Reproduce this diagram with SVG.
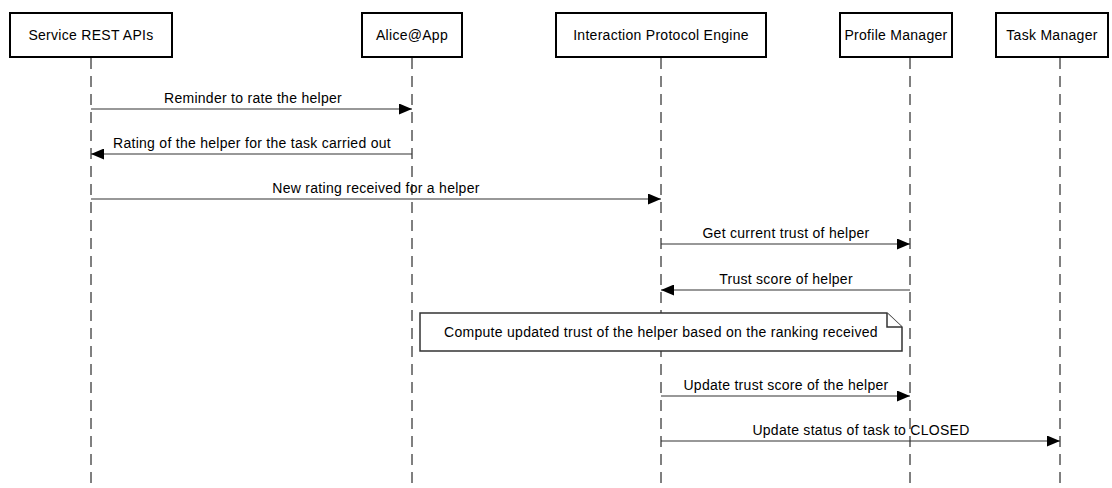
<svg xmlns="http://www.w3.org/2000/svg" width="1112" height="488" viewBox="0 0 1112 488">
  <style>
    text { font-family: "Liberation Sans", Arial, Helvetica, sans-serif; font-size: 14px; letter-spacing: 0.28px; fill: #000; }
    .actor rect { fill: #fff; stroke: #000; stroke-width: 2; }
    .actor text { text-anchor: middle; }
    .life { stroke: #000; stroke-width: 1; stroke-dasharray: 11 7; fill: none; }
    .msg line { stroke: #333; stroke-width: 1.2; }
    .msg text { text-anchor: middle; }
    .note path { fill: #fff; stroke: #333; stroke-width: 1.5; }
    .note text { text-anchor: middle; }
  </style>
  <defs>
    <marker id="head" viewBox="0 0 13 11" refX="13" refY="5.5" markerWidth="13" markerHeight="11" markerUnits="userSpaceOnUse" orient="auto">
      <path d="M0,0 L13,5.5 L0,11 Z" fill="#000"/>
    </marker>
  </defs>
  <rect width="1112" height="488" fill="#fff"/>

  <!-- lifelines -->
  <g id="lifelines">
    <line class="life" x1="91" y1="58" x2="91" y2="488"/>
    <line class="life" x1="412" y1="58" x2="412" y2="488"/>
    <line class="life" x1="661" y1="58" x2="661" y2="488"/>
    <line class="life" x1="910" y1="58" x2="910" y2="488"/>
    <line class="life" x1="1060" y1="58" x2="1060" y2="488"/>
  </g>

  <!-- participants -->
  <g id="service-rest-apis" class="actor">
    <rect x="10" y="13" width="162" height="44"/>
    <text x="91" y="40">Service REST APIs</text>
  </g>
  <g id="alice-app" class="actor">
    <rect x="362" y="13" width="100" height="44"/>
    <text x="412" y="40">Alice@App</text>
  </g>
  <g id="interaction-protocol-engine" class="actor">
    <rect x="556" y="13" width="210" height="44"/>
    <text x="661" y="40">Interaction Protocol Engine</text>
  </g>
  <g id="profile-manager" class="actor">
    <rect x="840" y="13" width="112" height="44"/>
    <text x="896" y="40">Profile Manager</text>
  </g>
  <g id="task-manager" class="actor">
    <rect x="996" y="13" width="112" height="44"/>
    <text x="1052" y="40">Task Manager</text>
  </g>

  <!-- messages -->
  <g id="connectors" class="msg">
    <line x1="91" y1="109" x2="412" y2="109" marker-end="url(#head)"/>
    <text x="253" y="103">Reminder to rate the helper</text>

    <line x1="412" y1="154" x2="91" y2="154" marker-end="url(#head)"/>
    <text x="252" y="148">Rating of the helper for the task carried out</text>

    <line x1="91" y1="199" x2="661" y2="199" marker-end="url(#head)"/>
    <text x="376" y="193">New rating received for a helper</text>

    <line x1="661" y1="244" x2="910" y2="244" marker-end="url(#head)"/>
    <text x="786" y="238">Get current trust of helper</text>

    <line x1="910" y1="290" x2="661" y2="290" marker-end="url(#head)"/>
    <text x="786" y="284">Trust score of helper</text>

    <line x1="661" y1="396" x2="910" y2="396" marker-end="url(#head)"/>
    <text x="786" y="390">Update trust score of the helper</text>

    <line x1="661" y1="441" x2="1060" y2="441" marker-end="url(#head)"/>
    <text x="861" y="435">Update status of task to CLOSED</text>
  </g>

  <!-- note -->
  <g id="note-compute-trust" class="note">
    <path d="M420,313 L887,313 L902,327 L902,351 L420,351 Z"/>
    <path d="M887,313 L887,327 L902,327" fill="none"/>
    <text x="661" y="337">Compute updated trust of the helper based on the ranking received</text>
  </g>
</svg>
